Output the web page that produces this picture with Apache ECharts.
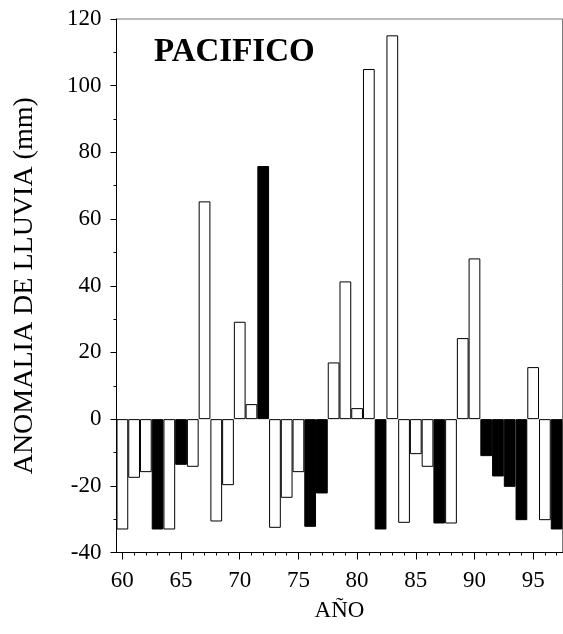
<!DOCTYPE html>
<html>
<head>
<meta charset="utf-8">
<script src="https://cdn.jsdelivr.net/npm/echarts@6/dist/echarts.min.js"></script>
<style>html,body{margin:0;padding:0;background:#fff;}#c{width:563px;height:634px;}</style>
</head>
<body>
<div id="c"></div>
<script>
// Years (category labels)
var years = ['60','61','62','63','64','65','66','67','68','69','70','71','72','73','74','75','76','77','78','79','80','81','82','83','84','85','86','87','88','89','90','91','92','93','94','95','96','97'];
// Rainfall anomaly (mm)
var anomalia = [-33.1,-17.6,-15.9,-33.1,-33.1,-13.7,-14.3,65.3,-30.7,-19.8,29.2,4.5,75.9,-32.6,-23.6,-15.9,-32.3,-22.3,17.0,41.3,3.3,105.0,-33.1,115.1,-31.1,-10.5,-14.3,-31.3,-31.3,24.3,48.2,-11.1,-17.2,-20.3,-30.3,15.6,-30.3,-33.1];
// 1 = filled (black) bar, 0 = open (white) bar
var relleno = [0,0,0,1,0,1,0,0,0,0,0,0,1,0,0,0,1,1,0,0,0,0,1,0,0,0,0,1,0,0,0,1,1,1,1,0,0,1];
var yTicks = {min:-40, max:120, interval:20};

var serif = "'Liberation Serif', 'Times New Roman', Times, serif";
var chart = echarts.init(document.getElementById('c'), null, {renderer:'canvas'});
var data = anomalia.map(function(v,i){
  return {value:v, itemStyle:{color: relleno[i] ? '#000' : '#fff', borderColor:'#000', borderWidth:1}};
});
var gridBox = {left:116.5, top:19, width:446, bottom:81.5};
chart.setOption({
  animation:false,
  title:{text:'PACIFICO', left:149, top:31, textStyle:{fontFamily:serif, fontSize:33, fontWeight:'bold', color:'#000'}},
  grid:[
    Object.assign({show:true, borderColor:'#777', borderWidth:1, backgroundColor:'transparent'}, gridBox),
    Object.assign({show:false}, gridBox)
  ],
  xAxis:[{
    type:'category', data:years, boundaryGap:true, gridIndex:0,
    name:'AÑO', nameLocation:'middle', nameGap:47,
    nameTextStyle:{fontFamily:serif, fontSize:23, color:'#000'},
    axisLine:{show:true, onZero:false, lineStyle:{color:'#000', width:1}},
    axisTick:{show:true, alignWithLabel:true, interval:0, length:3, lineStyle:{color:'#000'}},
    axisLabel:{interval:4, margin:17, fontFamily:serif, fontSize:23, color:'#000'},
    splitLine:{show:false}
  },{
    type:'category', data:years, boundaryGap:true, position:'bottom', gridIndex:1,
    axisLine:{show:false, onZero:false},
    axisTick:{show:true, alignWithLabel:true, interval:4, length:7, lineStyle:{color:'#000'}},
    axisLabel:{show:false}, splitLine:{show:false}
  }],
  yAxis:[{
    type:'value', min:yTicks.min, max:yTicks.max, interval:yTicks.interval, gridIndex:0,
    name:'ANOMALIA DE LLUVIA (mm)', nameLocation:'middle', nameGap:78,
    nameTextStyle:{fontFamily:serif, fontSize:28, color:'#000'},
    axisLine:{show:true, lineStyle:{color:'#000', width:1}},
    axisTick:{show:true, length:6, lineStyle:{color:'#000'}},
    minorTick:{show:true, splitNumber:2, length:3, lineStyle:{color:'#000'}},
    axisLabel:{margin:15, fontFamily:serif, fontSize:23, color:'#000'},
    splitLine:{show:false}
  },{
    type:'value', min:yTicks.min, max:yTicks.max, gridIndex:1, show:false
  }],
  series:[{
    type:'bar', data:data, xAxisIndex:0, yAxisIndex:0, barCategoryGap:'0%', barWidth:'100%'
  }]
});
</script>
</body>
</html>
